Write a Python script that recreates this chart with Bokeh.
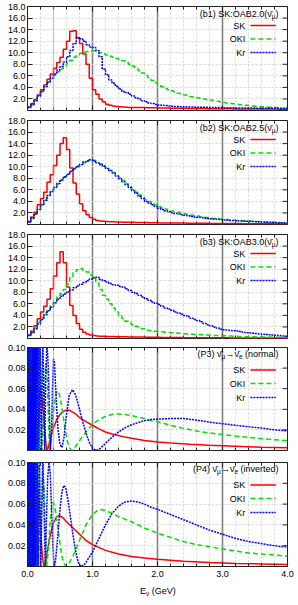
import numpy as np
from bokeh.plotting import figure
from bokeh.layouts import column
from bokeh.models import Range1d, FixedTicker, PrintfTickFormatter, Span, Label, Div
from bokeh.embed import file_html
from bokeh.resources import INLINE

# ---------------- data ----------------
BIN = 0.05  # GeV, histogram bin width

SK_B1 = [0.6,1.2,1.9,2.7,3.6,4.4,5.4,6.3,7.3,8.3,
         9.2,10.6,12.0,13.7,13.8,12.6,11.6,9.8,8.0,5.6,
         3.6,2.8,2.0,1.5,1.1,0.9,0.78,0.7,0.64,0.6,
         0.55,0.54,0.53,0.52,0.51,0.50,0.49,0.48,0.47,0.46,
         0.45,0.44,0.43,0.42,0.41,0.40,0.39,0.38,0.37,0.36,
         0.35,0.35,0.34,0.33,0.33,0.32,0.32,0.31,0.31,0.30,
         0.30,0.29,0.29,0.28,0.28,0.27,0.27,0.27,0.26,0.26,
         0.26,0.25,0.25,0.25,0.24,0.24,0.24,0.23,0.23,0.23]
OKI_B1 = [0.5,1.0,1.7,2.4,3.2,4.0,4.8,5.5,6.1,6.7,
          7.2,7.7,8.2,8.7,9.2,9.6,9.9,10.1,10.2,10.3,
          10.3,10.2,10.0,9.8,9.6,9.4,9.2,9.0,8.8,8.6,
          8.3,8.0,7.7,7.3,6.9,6.5,6.1,5.7,5.2,4.8,
          4.4,4.1,3.8,3.6,3.4,3.2,3.0,2.9,2.7,2.6,
          2.4,2.3,2.2,2.1,2.0,1.9,1.8,1.7,1.6,1.5,
          1.4,1.3,1.2,1.15,1.1,1.0,0.95,0.9,0.85,0.8,
          0.75,0.7,0.65,0.6,0.55,0.5,0.5,0.45,0.4,0.4]
KR_B1 = [0.5,1.0,1.7,2.5,3.3,4.1,4.9,5.6,6.3,7.0,
         7.6,8.4,9.3,10.4,11.6,12.6,12.4,12.0,11.4,11.0,
         10.9,10.4,9.3,7.2,6.2,5.3,4.7,4.2,3.7,3.3,
         3.1,2.8,2.5,2.2,2.0,1.7,1.5,1.3,1.2,1.05,
         0.95,0.9,0.85,0.8,0.75,0.7,0.7,0.65,0.65,0.6,
         0.6,0.58,0.57,0.56,0.55,0.55,0.54,0.52,0.5,0.5,
         0.48,0.47,0.47,0.46,0.45,0.44,0.44,0.43,0.42,0.42,
         0.41,0.4,0.4,0.39,0.38,0.38,0.37,0.37,0.36,0.35]

SK_B2 = [0.4,1.3,2.1,3.4,4.5,5.6,7.3,8.6,10.2,12.0,
         14.0,15.0,13.0,9.8,7.2,5.3,3.6,2.4,1.7,1.2,
         0.9,0.7,0.6,0.55,0.5,0.48,0.46,0.44,0.42,0.40,
         0.39,0.38,0.37,0.36,0.35,0.34,0.33,0.32,0.31,0.30,
         0.29,0.28,0.28,0.27,0.26,0.26,0.25,0.24,0.24,0.23,
         0.22,0.22,0.21,0.21,0.20,0.20,0.19,0.19,0.18,0.18,
         0.17,0.17,0.17,0.16,0.16,0.16,0.15,0.15,0.15,0.14,
         0.14,0.14,0.14,0.13,0.13,0.13,0.13,0.12,0.12,0.12]
OKI_B2 = [0.5,1.1,1.8,2.6,3.4,4.2,5.0,5.7,6.4,7.0,
          7.6,8.2,8.7,9.2,9.6,10.0,10.4,10.7,11.0,11.2,
          11.1,10.8,10.5,10.2,9.8,9.4,9.0,8.6,8.1,7.6,
          7.1,6.6,6.1,5.6,5.1,4.7,4.3,4.0,3.7,3.4,
          3.1,2.9,2.7,2.5,2.35,2.2,2.1,2.0,1.85,1.75,
          1.65,1.55,1.45,1.35,1.25,1.2,1.1,1.05,1.0,0.95,
          0.9,0.85,0.8,0.72,0.7,0.68,0.65,0.62,0.6,0.55,
          0.52,0.5,0.45,0.42,0.4,0.38,0.35,0.33,0.31,0.3]
KR_B2 = [0.5,1.1,1.8,2.6,3.4,4.2,5.0,5.7,6.4,7.1,
         7.7,8.2,8.7,9.2,9.7,10.1,10.4,10.8,11.0,11.2,
         11.0,10.7,10.4,10.1,9.7,9.3,8.9,8.4,7.9,7.4,
         6.9,6.4,5.9,5.4,4.9,4.5,4.0,3.7,3.4,3.1,
         2.8,2.6,2.4,2.2,2.05,1.9,1.8,1.7,1.6,1.5,
         1.4,1.3,1.25,1.2,1.1,1.05,1.0,0.95,0.9,0.85,
         0.8,0.75,0.7,0.68,0.65,0.6,0.58,0.55,0.52,0.5,
         0.48,0.45,0.42,0.4,0.38,0.36,0.34,0.32,0.3,0.28]

SK_B3 = [0.6,1.3,2.2,3.4,4.6,5.6,6.8,8.6,10.8,13.1,
         15.0,13.1,8.9,5.7,4.0,2.6,1.6,1.1,0.8,0.6,
         0.5,0.45,0.4,0.38,0.36,0.34,0.33,0.32,0.31,0.30,
         0.29,0.28,0.27,0.26,0.25,0.24,0.23,0.22,0.21,0.20,
         0.20,0.19,0.18,0.18,0.17,0.17,0.16,0.16,0.15,0.15,
         0.14,0.14,0.13,0.13,0.13,0.12,0.12,0.12,0.11,0.11,
         0.11,0.11,0.10,0.10,0.10,0.10,0.10,0.09,0.09,0.09,
         0.09,0.09,0.09,0.08,0.08,0.08,0.08,0.08,0.08,0.08]
OKI_B3 = [0.5,1.1,1.9,2.8,3.6,4.4,5.1,5.8,6.6,7.2,
          7.8,8.5,9.4,10.6,11.4,11.9,12.1,11.8,11.5,11.0,
          10.4,9.6,8.5,7.5,6.8,6.0,5.3,4.6,4.0,3.5,
          3.0,2.7,2.4,2.1,1.9,1.7,1.5,1.4,1.3,1.25,
          1.2,1.15,1.1,1.05,1.0,0.95,0.9,0.85,0.82,0.8,
          0.75,0.72,0.7,0.66,0.63,0.6,0.57,0.54,0.5,0.48,
          0.46,0.44,0.42,0.4,0.38,0.36,0.34,0.32,0.3,0.29,
          0.28,0.27,0.26,0.25,0.24,0.23,0.22,0.21,0.2,0.2]
KR_B3 = [0.5,1.0,1.7,2.5,3.3,4.1,4.8,5.4,6.2,6.8,
         7.3,7.7,8.1,8.4,8.8,9.1,9.4,9.7,10.0,10.3,
         10.5,10.6,10.2,10.0,9.8,9.5,9.3,9.2,9.0,8.9,
         8.6,8.3,8.0,7.8,7.5,7.2,6.9,6.6,6.3,6.1,
         5.9,5.6,5.3,5.1,4.9,4.6,4.4,4.2,4.0,3.8,
         3.5,3.3,3.1,2.9,2.6,2.4,2.2,2.0,1.8,1.6,
         1.5,1.45,1.4,1.35,1.3,1.2,1.1,1.0,0.95,0.9,
         0.85,0.8,0.75,0.7,0.65,0.6,0.55,0.5,0.45,0.4]

# oscillation probabilities: (E [GeV], P)
SK_P3 = [(0.004,0.0),(0.006,0.11),(0.008,0.0),(0.010,0.11),(0.012,0.0),(0.014,0.11),
         (0.016,0.0),(0.018,0.11),(0.020,0.0),(0.022,0.11),(0.024,0.0),(0.026,0.11),
         (0.028,0.06),(0.030,0.01),(0.0316,0.11),(0.0333,0.01),(0.0353,0.11),(0.0375,0.02),
         (0.040,0.11),(0.0429,0.01),(0.0462,0.11),(0.050,0.01),(0.0545,0.11),(0.060,0.017),
         (0.0667,0.11),(0.075,0.0),(0.0857,0.095),(0.100,0.0),(0.105,0.02),(0.110,0.05),
         (0.115,0.075),(0.120,0.085),(0.125,0.085),(0.130,0.07),(0.135,0.05),(0.140,0.025),
         (0.145,0.008),(0.150,0.0),(0.160,0.01),(0.170,0.028),(0.180,0.045),(0.190,0.055),
         (0.200,0.058),(0.210,0.057),(0.220,0.052),(0.240,0.04),(0.260,0.024),(0.280,0.009),
         (0.300,0.0),(0.320,0.003),(0.350,0.011),(0.400,0.022),(0.450,0.030),(0.500,0.035),
         (0.550,0.038),(0.600,0.039),(0.650,0.039),(0.700,0.037),(0.750,0.035),(0.800,0.032),
         (0.900,0.028),(1.000,0.0245),(1.100,0.021),(1.200,0.018),(1.300,0.016),(1.400,0.0145),
         (1.500,0.013),(1.600,0.0118),(1.800,0.0098),(2.000,0.0083),(2.200,0.0072),(2.500,0.006),
         (2.800,0.0051),(3.000,0.0046),(3.300,0.0038),(3.600,0.0032),(4.000,0.0027)]
OKI_P3 = [(0.004,0.0),(0.010,0.11),(0.016,0.0),(0.022,0.11),(0.028,0.0),(0.034,0.11),
          (0.040,0.0),(0.046,0.11),(0.052,0.0),(0.058,0.11),(0.0618,0.0),(0.0648,0.11),
          (0.068,0.0),(0.0716,0.11),(0.0756,0.0),(0.080,0.11),(0.085,0.0),(0.090,0.11),
          (0.097,0.0),(0.104,0.11),(0.113,0.0),(0.123,0.11),(0.136,0.0),(0.151,0.11),
          (0.170,0.0),(0.195,0.11),(0.227,0.0),(0.240,0.02),(0.260,0.06),(0.280,0.085),
          (0.300,0.075),(0.320,0.035),(0.340,0.0),(0.360,0.008),(0.380,0.022),(0.400,0.038),
          (0.430,0.053),(0.460,0.058),(0.490,0.055),(0.520,0.045),(0.550,0.033),(0.580,0.02),
          (0.610,0.01),(0.640,0.003),(0.680,0.0),(0.720,0.002),(0.760,0.006),(0.800,0.0095),
          (0.900,0.018),(1.000,0.0255),(1.100,0.030),(1.200,0.033),(1.300,0.035),(1.400,0.0355),
          (1.500,0.035),(1.600,0.034),(1.700,0.0325),(1.800,0.031),(1.900,0.029),(2.000,0.028),
          (2.200,0.0245),(2.400,0.0215),(2.600,0.019),(2.800,0.017),(3.000,0.0155),(3.200,0.014),
          (3.400,0.0127),(3.600,0.0115),(3.800,0.0105),(4.000,0.0095)]
KR_P3 = [(0.004,0.0),(0.012,0.11),(0.020,0.0),(0.028,0.11),(0.036,0.0),(0.044,0.11),
         (0.052,0.0),(0.060,0.11),(0.068,0.0),(0.076,0.11),(0.0815,0.0),(0.085,0.11),
         (0.0883,0.0),(0.092,0.11),(0.0964,0.0),(0.101,0.11),
         (0.106,0.0),(0.112,0.11),(0.118,0.0),(0.125,0.11),(0.1325,0.0),(0.141,0.11),
         (0.151,0.0),(0.163,0.11),(0.177,0.0),(0.192,0.11),(0.212,0.0),(0.236,0.11),
         (0.265,0.0),(0.280,0.07),(0.300,0.105),(0.320,0.08),(0.340,0.03),(0.353,0.0),
         (0.370,0.02),(0.385,0.06),(0.400,0.089),(0.415,0.085),(0.430,0.065),(0.450,0.04),
         (0.470,0.02),(0.500,0.006),(0.530,0.003),(0.560,0.012),(0.600,0.035),(0.640,0.053),
         (0.690,0.059),(0.740,0.054),(0.800,0.04),(0.850,0.028),(0.900,0.017),(0.950,0.008),
         (1.000,0.002),(1.060,0.0),(1.120,0.002),(1.200,0.007),(1.300,0.013),(1.400,0.018),
         (1.500,0.022),(1.600,0.025),(1.700,0.027),(1.800,0.029),(1.900,0.030),(2.000,0.0305),
         (2.200,0.031),(2.400,0.031),(2.600,0.0295),(2.800,0.0275),(3.000,0.026),(3.200,0.0245),
         (3.400,0.023),(3.600,0.0218),(3.800,0.020),(4.000,0.019)]

SK_P4 = [(0.004,0.0),(0.007,0.11),(0.010,0.0),(0.013,0.11),(0.016,0.0),(0.019,0.11),
         (0.022,0.0),(0.025,0.11),(0.028,0.0),(0.03125,0.005),(0.0333,0.11),(0.0357,0.005),
         (0.0385,0.11),(0.0417,0.005),(0.0455,0.11),(0.050,0.005),(0.0555,0.11),(0.0625,0.005),
         (0.071,0.11),(0.083,0.005),(0.090,0.06),(0.100,0.095),(0.110,0.06),(0.125,0.007),
         (0.135,0.03),(0.150,0.06),(0.165,0.068),(0.180,0.06),(0.200,0.04),(0.220,0.018),
         (0.240,0.004),(0.256,0.0),(0.280,0.005),(0.300,0.013),(0.350,0.03),(0.400,0.042),
         (0.450,0.048),(0.480,0.049),(0.520,0.048),(0.560,0.046),(0.600,0.043),(0.700,0.037),
         (0.800,0.031),(0.900,0.025),(1.000,0.021),(1.200,0.0155),(1.400,0.012),(1.600,0.0097),
         (1.800,0.0082),(2.000,0.007),(2.400,0.005),(2.800,0.0038),(3.200,0.003),(3.600,0.0025),
         (4.000,0.002)]
OKI_P4 = [(0.004,0.0),(0.010,0.11),(0.016,0.0),(0.022,0.11),(0.028,0.0),(0.034,0.11),
          (0.040,0.0),(0.046,0.11),(0.052,0.0),(0.058,0.11),(0.064,0.0),(0.0695,0.11),
          (0.074,0.0),(0.079,0.11),(0.084,0.0),(0.090,0.11),(0.098,0.0),(0.107,0.11),
          (0.118,0.0),(0.131,0.11),(0.1475,0.0),(0.168,0.11),(0.197,0.0),(0.210,0.04),
          (0.235,0.09),(0.260,0.07),(0.280,0.02),(0.295,0.0),(0.320,0.015),(0.350,0.045),
          (0.380,0.062),(0.410,0.06),(0.440,0.05),(0.470,0.036),(0.500,0.022),(0.530,0.01),
          (0.560,0.003),(0.590,0.0),(0.630,0.002),(0.700,0.01),(0.800,0.025),(0.900,0.04),
          (1.000,0.05),(1.100,0.055),(1.200,0.054),(1.300,0.051),(1.400,0.048),(1.600,0.043),
          (1.800,0.037),(2.000,0.032),(2.200,0.028),(2.400,0.024),(2.600,0.021),(2.800,0.019),
          (3.000,0.017),(3.200,0.015),(3.400,0.013),(3.600,0.012),(3.800,0.011),(4.000,0.010)]
KR_P4 = [(0.004,0.0),(0.012,0.11),(0.020,0.0),(0.028,0.11),(0.036,0.0),(0.044,0.11),
         (0.052,0.0),(0.060,0.11),(0.068,0.0),(0.0745,0.11),(0.082,0.0),(0.086,0.11),
         (0.091,0.0),(0.096,0.11),(0.1025,0.0),(0.109,0.11),(0.117,0.0),(0.126,0.11),
         (0.137,0.0),(0.150,0.11),(0.164,0.0),(0.183,0.11),(0.205,0.0),(0.236,0.11),
         (0.273,0.0),(0.290,0.04),(0.310,0.085),(0.330,0.1),(0.350,0.09),(0.370,0.055),
         (0.390,0.02),(0.410,0.0),(0.430,0.005),(0.460,0.025),(0.500,0.055),(0.530,0.072),
         (0.560,0.078),(0.590,0.075),(0.620,0.065),(0.660,0.048),(0.700,0.03),(0.740,0.015),
         (0.780,0.004),(0.820,0.0),(0.860,0.001),(0.900,0.004),(1.000,0.014),(1.100,0.027),
         (1.200,0.04),(1.300,0.051),(1.400,0.058),(1.500,0.062),(1.600,0.063),(1.700,0.062),
         (1.800,0.060),(1.900,0.057),(2.000,0.055),(2.200,0.050),(2.400,0.045),(2.600,0.040),
         (2.800,0.035),(3.000,0.031),(3.200,0.027),(3.400,0.024),(3.600,0.022),(3.800,0.020),
         (4.000,0.0185)]

X_TICKS = [0, 1, 2, 3, 4]
X_MINOR = [0.2 * k for k in range(21)]
B_YTICKS = [2, 4, 6, 8, 10, 12, 14, 16, 18]
P_YTICKS = [0.02, 0.04, 0.06, 0.08, 0.10]
NAMES = ["SK", "OKI", "Kr"]

# ---------------- style ----------------
FONT = "Liberation Sans"
FS = 9.0
SUB = 6.5
COLORS = ["#ff0000", "#00e000", "#0000ff"]
DASHES = ["solid", "5 3", "2 1"]
LW = 1.5
FW = 260                   # frame width px
XMAX = 4.0
AXC = "#222222"

W = {' ': 278, '\u00a0': 278, '(': 333, ')': 333, '.': 278, ':': 278, 'A': 667, 'B': 667,
     'E': 667, 'G': 778, 'K': 667, 'O': 778, 'P': 667, 'S': 667, 'V': 667, 'a': 556,
     'b': 556, 'd': 556, 'e': 556, 'i': 222, 'l': 222, 'm': 833, 'n': 556, 'o': 556,
     'r': 333, 't': 278, 'v': 500, '\u03bd': 520, '\u03bc': 576, '\u2192': 1000, '\u0304': 0}


def tw(s, size):
    return sum(W.get(c, 556) for c in s) * size / 1000.0


def px2x(px):
    return px * XMAX / FW


def make_fig(ymax, yticks, fmt, fh, top, bottom, show_x):
    p = figure(frame_width=FW, frame_height=fh, x_range=Range1d(0, XMAX), y_range=Range1d(0, ymax),
               output_backend="svg", toolbar_location=None,
               min_border_left=27, min_border_right=11, min_border_top=top, min_border_bottom=bottom)
    p.outline_line_color = AXC
    p.background_fill_color = "white"
    p.border_fill_color = "white"
    xt = FixedTicker(ticks=X_TICKS, minor_ticks=X_MINOR)
    yt = FixedTicker(ticks=yticks, minor_ticks=[])
    ax = p.xaxis[0]
    ax.ticker = xt
    ax.formatter = PrintfTickFormatter(format="%.1f")
    ay = p.yaxis[0]
    ay.ticker = yt
    ay.formatter = PrintfTickFormatter(format=fmt)
    for a in (ax, ay):
        a.axis_line_color = AXC
        a.major_tick_in = 5
        a.major_tick_out = 0
        a.minor_tick_in = 3
        a.minor_tick_out = 0
        a.major_tick_line_color = AXC
        a.minor_tick_line_color = AXC
        a.major_label_text_font = FONT
        a.major_label_text_font_size = f"{FS}px"
        a.major_label_text_color = "black"
        a.major_label_standoff = 2
    ay.minor_tick_line_color = None
    ax.major_label_standoff = 4
    ax.visible = show_x
    # grid
    p.xgrid.ticker = xt
    p.ygrid.ticker = yt
    p.xgrid.grid_line_color = "#808080"
    p.xgrid.grid_line_width = 1.6
    p.xgrid.minor_grid_line_color = "#d4d4d4"
    p.xgrid.minor_grid_line_dash = "2 2"
    p.ygrid.grid_line_color = "#d4d4d4"
    p.ygrid.grid_line_dash = "2 2"
    p.add_layout(Span(location=0.4, dimension="height", line_color="#a0a0a0",
                      line_dash="1 1", line_width=1.3))
    # inward tick marks on the top, right (and bottom when the axis is hidden)
    dmaj = 5 * ymax / fh
    dmin = 3 * ymax / fh
    ylevels = [(ymax, -1)] + ([] if show_x else [(0.0, 1)])
    for yl, sgn in ylevels:
        p.segment(x0=X_TICKS, y0=[yl] * len(X_TICKS), x1=X_TICKS,
                  y1=[yl + sgn * dmaj] * len(X_TICKS), line_color=AXC, line_width=1)
        p.segment(x0=X_MINOR, y0=[yl] * len(X_MINOR), x1=X_MINOR,
                  y1=[yl + sgn * dmin] * len(X_MINOR), line_color=AXC, line_width=1)
    p.segment(x0=[XMAX] * len(yticks), y0=yticks, x1=[XMAX - px2x(5)] * len(yticks), y1=yticks,
              line_color=AXC, line_width=1)
    return p


def ypx(p, fh, off):
    ymax = p.y_range.end
    return ymax - off * ymax / fh


def label(p, x, y, text, size, align="left"):
    p.add_layout(Label(x=x, y=y, text=text, text_font=FONT, text_font_size=f"{size}px",
                       text_align=align, text_baseline="middle", text_color="black"))


def title(p, fh, off, pieces):
    """pieces: list of (text, is_subscript), right-aligned as a whole."""
    xr = 3.862
    y = ypx(p, fh, off)
    ysub = ypx(p, fh, off + 2.5)
    x = xr
    for text, sub in reversed(pieces):
        size = SUB if sub else FS
        label(p, x, ysub if sub else y, text, size, align="right")
        x -= px2x(tw(text, size))


def legend(p, fh, offs):
    for off, name, col, dash in zip(offs, NAMES, COLORS, DASHES):
        y = ypx(p, fh, off)
        label(p, 3.349, y, name, FS, align="right")
        p.line([3.43, 3.82], [y, y], line_color=col, line_dash=dash, line_width=LW)


def hist(p, vals, col, dash):
    edges = np.arange(len(vals) + 1) * BIN
    ys = list(vals) + [vals[-1]]
    p.step(edges, ys, mode="after", line_color=col, line_dash=dash, line_width=LW)


def curve(p, pts, col, dash):
    xs = [a for a, b in pts]
    ys = [b for a, b in pts]
    p.line(xs, ys, line_color=col, line_dash=dash, line_width=LW)


figs = []
B_SETS = [("b1", "2.0", SK_B1, OKI_B1, KR_B1, 6, 5), ("b2", "2.5", SK_B2, OKI_B2, KR_B2, 5, 5),
          ("b3", "3.0", SK_B3, OKI_B3, KR_B3, 5, 4)]
for tag, oab, sk, oki, kr, top, bot in B_SETS:
    fh = 104
    p = make_fig(18, B_YTICKS, "%.1f", fh, top=top, bottom=bot, show_x=False)
    for vals, col, dash in zip((sk, oki, kr), COLORS, DASHES):
        hist(p, vals, col, dash)
    title(p, fh, 7.5, [(f"({tag}) SK:OAB{oab}(\u03bd\u0304", False), ("\u03bc", True), (")", False)])
    legend(p, fh, [19, 32.5, 46])
    figs.append(p)

P_SETS = [("P3", "normal", SK_P3, OKI_P3, KR_P3, 103, 5, 6, False),
          ("P4", "inverted", SK_P4, OKI_P4, KR_P4, 104, 6, 16, True)]
for tag, hier, sk, oki, kr, fh, top, bot, last in P_SETS:
    p = make_fig(0.1, P_YTICKS, "%.2f", fh, top=top, bottom=bot, show_x=last)
    for pts, col, dash in zip((sk, oki, kr), COLORS, DASHES):
        curve(p, pts, col, dash)
    title(p, fh, 6.5, [(f"({tag}) \u03bd\u0304", False), ("\u03bc", True), ("\u2192\u03bd\u0304", False),
                       ("e", True), (f"\u00a0({hier})", False)])
    legend(p, fh, [22.5, 36, 50])
    figs.append(p)

xlabel = Div(text=('<div style="padding-left:140px;padding-top:3px;font-family:\'Liberation Sans\';'
                   'font-size:9px;line-height:11px;color:black;white-space:nowrap">'
                   'E<sub style="font-size:6.5px;line-height:0;vertical-align:-2px">\u03bd</sub>'
                   '&nbsp;(GeV)</div>'),
             width=298, height=22, margin=(0, 0, 0, 0))

layout = column(*figs, xlabel, spacing=0)
open("out.html", "w").write(file_html(layout, INLINE))
